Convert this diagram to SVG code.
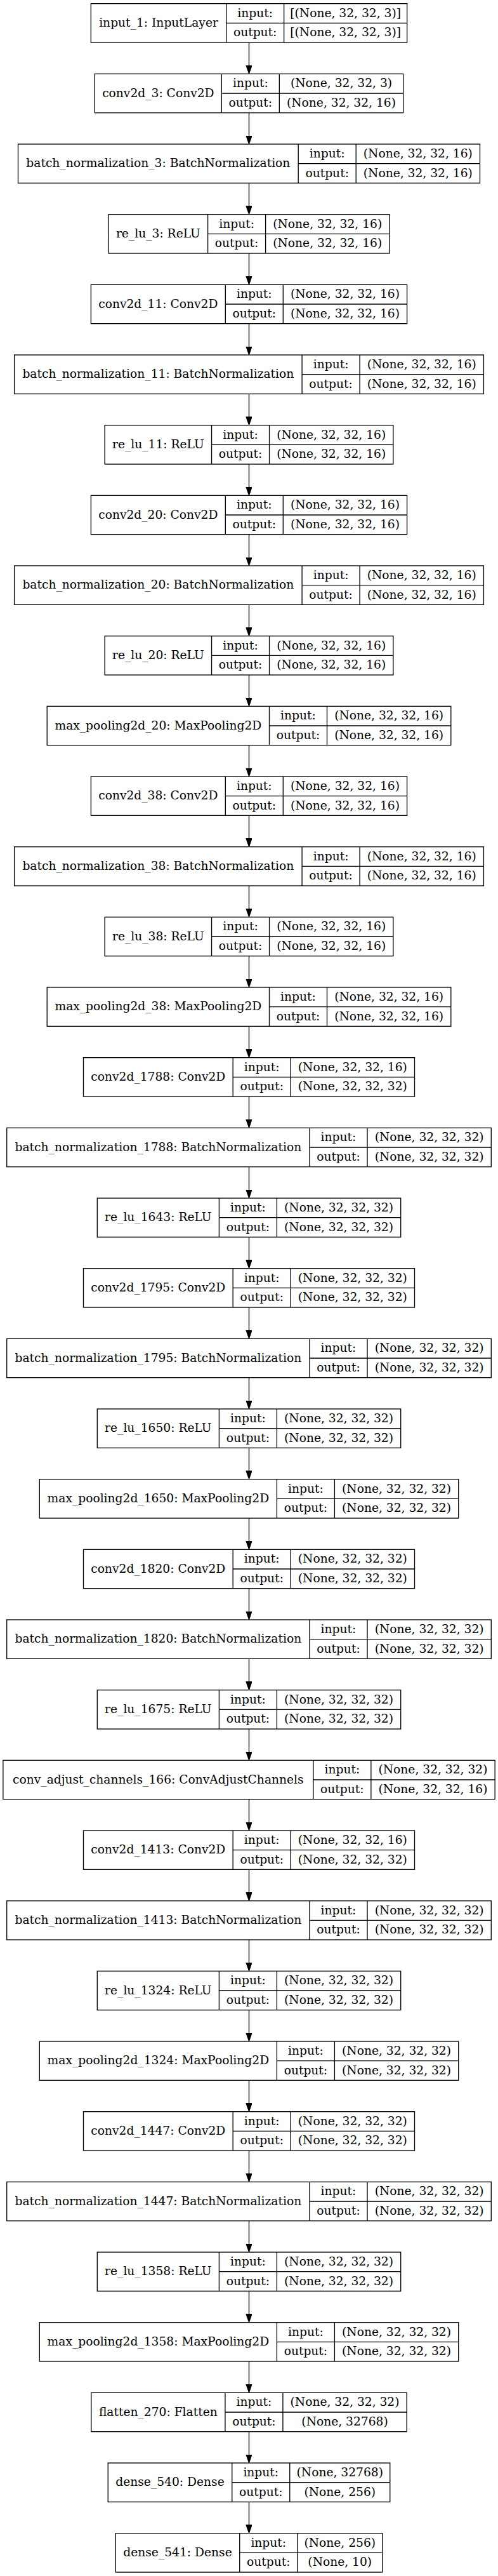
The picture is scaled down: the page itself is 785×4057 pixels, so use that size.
<svg xmlns="http://www.w3.org/2000/svg" width="785" height="4057" viewBox="0 0 785 4057">
<style>
.n rect{fill:#fff;stroke:#000;stroke-width:1.33}
.n path{fill:none;stroke:#000;stroke-width:1.33}
.n text{font-family:"DejaVu Serif","Liberation Serif",serif;font-size:18.67px;text-anchor:middle;fill:#000}
.e line{stroke:#000;stroke-width:1.33}
</style>
<defs>
<marker id="ah" markerUnits="userSpaceOnUse" markerWidth="14" markerHeight="10" refX="8.33" refY="4.67" orient="auto"><path d="M0,0L13.33,4.67L0,9.33z" fill="#000" stroke="#000" stroke-width="1"/></marker>
</defs>
<rect width="785" height="4057" fill="#fff"/>
<g class="e" marker-end="url(#ah)">
<line x1="392.5" y1="67" x2="392.5" y2="111.33" marker-end="url(#ah)"/>
<line x1="392.5" y1="177.67" x2="392.5" y2="222" marker-end="url(#ah)"/>
<line x1="392.5" y1="288.33" x2="392.5" y2="332.67" marker-end="url(#ah)"/>
<line x1="392.5" y1="399" x2="392.5" y2="443.33" marker-end="url(#ah)"/>
<line x1="392.5" y1="509.67" x2="392.5" y2="554" marker-end="url(#ah)"/>
<line x1="392.5" y1="620.33" x2="392.5" y2="664.67" marker-end="url(#ah)"/>
<line x1="392.5" y1="731" x2="392.5" y2="775.33" marker-end="url(#ah)"/>
<line x1="392.5" y1="841.67" x2="392.5" y2="886" marker-end="url(#ah)"/>
<line x1="392.5" y1="952.33" x2="392.5" y2="996.67" marker-end="url(#ah)"/>
<line x1="392.5" y1="1063" x2="392.5" y2="1107.33" marker-end="url(#ah)"/>
<line x1="392.5" y1="1173.67" x2="392.5" y2="1218" marker-end="url(#ah)"/>
<line x1="392.5" y1="1284.33" x2="392.5" y2="1328.67" marker-end="url(#ah)"/>
<line x1="392.5" y1="1395" x2="392.5" y2="1439.33" marker-end="url(#ah)"/>
<line x1="392.5" y1="1505.67" x2="392.5" y2="1550" marker-end="url(#ah)"/>
<line x1="392.5" y1="1616.33" x2="392.5" y2="1660.67" marker-end="url(#ah)"/>
<line x1="392.5" y1="1727" x2="392.5" y2="1771.33" marker-end="url(#ah)"/>
<line x1="392.5" y1="1837.67" x2="392.5" y2="1882" marker-end="url(#ah)"/>
<line x1="392.5" y1="1948.33" x2="392.5" y2="1992.67" marker-end="url(#ah)"/>
<line x1="392.5" y1="2059" x2="392.5" y2="2103.33" marker-end="url(#ah)"/>
<line x1="392.5" y1="2169.67" x2="392.5" y2="2214" marker-end="url(#ah)"/>
<line x1="392.5" y1="2280.33" x2="392.5" y2="2324.67" marker-end="url(#ah)"/>
<line x1="392.5" y1="2391" x2="392.5" y2="2435.33" marker-end="url(#ah)"/>
<line x1="392.5" y1="2501.67" x2="392.5" y2="2546" marker-end="url(#ah)"/>
<line x1="392.5" y1="2612.33" x2="392.5" y2="2656.67" marker-end="url(#ah)"/>
<line x1="392.5" y1="2723" x2="392.5" y2="2767.33" marker-end="url(#ah)"/>
<line x1="392.5" y1="2833.67" x2="392.5" y2="2878" marker-end="url(#ah)"/>
<line x1="392.5" y1="2944.33" x2="392.5" y2="2988.67" marker-end="url(#ah)"/>
<line x1="392.5" y1="3055" x2="392.5" y2="3099.33" marker-end="url(#ah)"/>
<line x1="392.5" y1="3165.67" x2="392.5" y2="3210" marker-end="url(#ah)"/>
<line x1="392.5" y1="3276.33" x2="392.5" y2="3320.67" marker-end="url(#ah)"/>
<line x1="392.5" y1="3387" x2="392.5" y2="3431.33" marker-end="url(#ah)"/>
<line x1="392.5" y1="3497.67" x2="392.5" y2="3542" marker-end="url(#ah)"/>
<line x1="392.5" y1="3608.33" x2="392.5" y2="3652.67" marker-end="url(#ah)"/>
<line x1="392.5" y1="3719" x2="392.5" y2="3763.33" marker-end="url(#ah)"/>
<line x1="392.5" y1="3829.67" x2="392.5" y2="3874" marker-end="url(#ah)"/>
<line x1="392.5" y1="3940.33" x2="392.5" y2="3984.67" marker-end="url(#ah)"/>
</g>

<g id="input_1" class="n" transform="translate(143.35,5.67)">
<rect width="498.3" height="61.33"/><path d="M213.3,0V61.33M304.3,0V61.33M213.3,30.67H498.3"/>
<text x="106.65" y="36.27">input_1: InputLayer</text><text x="258.8" y="20.93">input:</text><text x="258.8" y="51.6">output:</text>
<text x="401.3" y="20.93">[(None, 32, 32, 3)]</text><text x="401.3" y="51.6">[(None, 32, 32, 3)]</text>
</g>
<g id="conv2d_3" class="n" transform="translate(149.35,116.33)">
<rect width="486.3" height="61.33"/><path d="M200,0V61.33M291,0V61.33M200,30.67H486.3"/>
<text x="100" y="36.27">conv2d_3: Conv2D</text><text x="245.5" y="20.93">input:</text><text x="245.5" y="51.6">output:</text>
<text x="388.65" y="20.93">(None, 32, 32, 3)</text><text x="388.65" y="51.6">(None, 32, 32, 16)</text>
</g>
<g id="batch_normalization_3" class="n" transform="translate(28.5,227)">
<rect width="728" height="61.33"/><path d="M441.7,0V61.33M532.7,0V61.33M441.7,30.67H728"/>
<text x="220.85" y="36.27">batch_normalization_3: BatchNormalization</text><text x="487.2" y="20.93">input:</text><text x="487.2" y="51.6">output:</text>
<text x="630.35" y="20.93">(None, 32, 32, 16)</text><text x="630.35" y="51.6">(None, 32, 32, 16)</text>
</g>
<g id="re_lu_3" class="n" transform="translate(171.1,337.67)">
<rect width="442.8" height="61.33"/><path d="M156.5,0V61.33M247.5,0V61.33M156.5,30.67H442.8"/>
<text x="78.25" y="36.27">re_lu_3: ReLU</text><text x="202" y="20.93">input:</text><text x="202" y="51.6">output:</text>
<text x="345.15" y="20.93">(None, 32, 32, 16)</text><text x="345.15" y="51.6">(None, 32, 32, 16)</text>
</g>
<g id="conv2d_11" class="n" transform="translate(143.4,448.33)">
<rect width="498.2" height="61.33"/><path d="M211.9,0V61.33M302.9,0V61.33M211.9,30.67H498.2"/>
<text x="105.95" y="36.27">conv2d_11: Conv2D</text><text x="257.4" y="20.93">input:</text><text x="257.4" y="51.6">output:</text>
<text x="400.55" y="20.93">(None, 32, 32, 16)</text><text x="400.55" y="51.6">(None, 32, 32, 16)</text>
</g>
<g id="batch_normalization_11" class="n" transform="translate(22.6,559)">
<rect width="739.8" height="61.33"/><path d="M453.5,0V61.33M544.5,0V61.33M453.5,30.67H739.8"/>
<text x="226.75" y="36.27">batch_normalization_11: BatchNormalization</text><text x="499" y="20.93">input:</text><text x="499" y="51.6">output:</text>
<text x="642.15" y="20.93">(None, 32, 32, 16)</text><text x="642.15" y="51.6">(None, 32, 32, 16)</text>
</g>
<g id="re_lu_11" class="n" transform="translate(165.15,669.67)">
<rect width="454.7" height="61.33"/><path d="M168.4,0V61.33M259.4,0V61.33M168.4,30.67H454.7"/>
<text x="84.2" y="36.27">re_lu_11: ReLU</text><text x="213.9" y="20.93">input:</text><text x="213.9" y="51.6">output:</text>
<text x="357.05" y="20.93">(None, 32, 32, 16)</text><text x="357.05" y="51.6">(None, 32, 32, 16)</text>
</g>
<g id="conv2d_20" class="n" transform="translate(143.4,780.33)">
<rect width="498.2" height="61.33"/><path d="M211.9,0V61.33M302.9,0V61.33M211.9,30.67H498.2"/>
<text x="105.95" y="36.27">conv2d_20: Conv2D</text><text x="257.4" y="20.93">input:</text><text x="257.4" y="51.6">output:</text>
<text x="400.55" y="20.93">(None, 32, 32, 16)</text><text x="400.55" y="51.6">(None, 32, 32, 16)</text>
</g>
<g id="batch_normalization_20" class="n" transform="translate(22.6,891)">
<rect width="739.8" height="61.33"/><path d="M453.5,0V61.33M544.5,0V61.33M453.5,30.67H739.8"/>
<text x="226.75" y="36.27">batch_normalization_20: BatchNormalization</text><text x="499" y="20.93">input:</text><text x="499" y="51.6">output:</text>
<text x="642.15" y="20.93">(None, 32, 32, 16)</text><text x="642.15" y="51.6">(None, 32, 32, 16)</text>
</g>
<g id="re_lu_20" class="n" transform="translate(165.15,1001.67)">
<rect width="454.7" height="61.33"/><path d="M168.4,0V61.33M259.4,0V61.33M168.4,30.67H454.7"/>
<text x="84.2" y="36.27">re_lu_20: ReLU</text><text x="213.9" y="20.93">input:</text><text x="213.9" y="51.6">output:</text>
<text x="357.05" y="20.93">(None, 32, 32, 16)</text><text x="357.05" y="51.6">(None, 32, 32, 16)</text>
</g>
<g id="max_pooling2d_20" class="n" transform="translate(74.2,1112.33)">
<rect width="636.6" height="61.33"/><path d="M350.3,0V61.33M441.3,0V61.33M350.3,30.67H636.6"/>
<text x="175.15" y="36.27">max_pooling2d_20: MaxPooling2D</text><text x="395.8" y="20.93">input:</text><text x="395.8" y="51.6">output:</text>
<text x="538.95" y="20.93">(None, 32, 32, 16)</text><text x="538.95" y="51.6">(None, 32, 32, 16)</text>
</g>
<g id="conv2d_38" class="n" transform="translate(143.4,1223)">
<rect width="498.2" height="61.33"/><path d="M211.9,0V61.33M302.9,0V61.33M211.9,30.67H498.2"/>
<text x="105.95" y="36.27">conv2d_38: Conv2D</text><text x="257.4" y="20.93">input:</text><text x="257.4" y="51.6">output:</text>
<text x="400.55" y="20.93">(None, 32, 32, 16)</text><text x="400.55" y="51.6">(None, 32, 32, 16)</text>
</g>
<g id="batch_normalization_38" class="n" transform="translate(22.6,1333.67)">
<rect width="739.8" height="61.33"/><path d="M453.5,0V61.33M544.5,0V61.33M453.5,30.67H739.8"/>
<text x="226.75" y="36.27">batch_normalization_38: BatchNormalization</text><text x="499" y="20.93">input:</text><text x="499" y="51.6">output:</text>
<text x="642.15" y="20.93">(None, 32, 32, 16)</text><text x="642.15" y="51.6">(None, 32, 32, 16)</text>
</g>
<g id="re_lu_38" class="n" transform="translate(165.15,1444.33)">
<rect width="454.7" height="61.33"/><path d="M168.4,0V61.33M259.4,0V61.33M168.4,30.67H454.7"/>
<text x="84.2" y="36.27">re_lu_38: ReLU</text><text x="213.9" y="20.93">input:</text><text x="213.9" y="51.6">output:</text>
<text x="357.05" y="20.93">(None, 32, 32, 16)</text><text x="357.05" y="51.6">(None, 32, 32, 16)</text>
</g>
<g id="max_pooling2d_38" class="n" transform="translate(74.2,1555)">
<rect width="636.6" height="61.33"/><path d="M350.3,0V61.33M441.3,0V61.33M350.3,30.67H636.6"/>
<text x="175.15" y="36.27">max_pooling2d_38: MaxPooling2D</text><text x="395.8" y="20.93">input:</text><text x="395.8" y="51.6">output:</text>
<text x="538.95" y="20.93">(None, 32, 32, 16)</text><text x="538.95" y="51.6">(None, 32, 32, 16)</text>
</g>
<g id="conv2d_1788" class="n" transform="translate(131.5,1665.67)">
<rect width="522" height="61.33"/><path d="M235.7,0V61.33M326.7,0V61.33M235.7,30.67H522"/>
<text x="117.85" y="36.27">conv2d_1788: Conv2D</text><text x="281.2" y="20.93">input:</text><text x="281.2" y="51.6">output:</text>
<text x="424.35" y="20.93">(None, 32, 32, 16)</text><text x="424.35" y="51.6">(None, 32, 32, 32)</text>
</g>
<g id="batch_normalization_1788" class="n" transform="translate(10.7,1776.33)">
<rect width="763.6" height="61.33"/><path d="M477.3,0V61.33M568.3,0V61.33M477.3,30.67H763.6"/>
<text x="238.65" y="36.27">batch_normalization_1788: BatchNormalization</text><text x="522.8" y="20.93">input:</text><text x="522.8" y="51.6">output:</text>
<text x="665.95" y="20.93">(None, 32, 32, 32)</text><text x="665.95" y="51.6">(None, 32, 32, 32)</text>
</g>
<g id="re_lu_1643" class="n" transform="translate(153.3,1887)">
<rect width="478.4" height="61.33"/><path d="M192.1,0V61.33M283.1,0V61.33M192.1,30.67H478.4"/>
<text x="96.05" y="36.27">re_lu_1643: ReLU</text><text x="237.6" y="20.93">input:</text><text x="237.6" y="51.6">output:</text>
<text x="380.75" y="20.93">(None, 32, 32, 32)</text><text x="380.75" y="51.6">(None, 32, 32, 32)</text>
</g>
<g id="conv2d_1795" class="n" transform="translate(131.5,1997.67)">
<rect width="522" height="61.33"/><path d="M235.7,0V61.33M326.7,0V61.33M235.7,30.67H522"/>
<text x="117.85" y="36.27">conv2d_1795: Conv2D</text><text x="281.2" y="20.93">input:</text><text x="281.2" y="51.6">output:</text>
<text x="424.35" y="20.93">(None, 32, 32, 32)</text><text x="424.35" y="51.6">(None, 32, 32, 32)</text>
</g>
<g id="batch_normalization_1795" class="n" transform="translate(10.7,2108.33)">
<rect width="763.6" height="61.33"/><path d="M477.3,0V61.33M568.3,0V61.33M477.3,30.67H763.6"/>
<text x="238.65" y="36.27">batch_normalization_1795: BatchNormalization</text><text x="522.8" y="20.93">input:</text><text x="522.8" y="51.6">output:</text>
<text x="665.95" y="20.93">(None, 32, 32, 32)</text><text x="665.95" y="51.6">(None, 32, 32, 32)</text>
</g>
<g id="re_lu_1650" class="n" transform="translate(153.3,2219)">
<rect width="478.4" height="61.33"/><path d="M192.1,0V61.33M283.1,0V61.33M192.1,30.67H478.4"/>
<text x="96.05" y="36.27">re_lu_1650: ReLU</text><text x="237.6" y="20.93">input:</text><text x="237.6" y="51.6">output:</text>
<text x="380.75" y="20.93">(None, 32, 32, 32)</text><text x="380.75" y="51.6">(None, 32, 32, 32)</text>
</g>
<g id="max_pooling2d_1650" class="n" transform="translate(62.3,2329.67)">
<rect width="660.4" height="61.33"/><path d="M374.1,0V61.33M465.1,0V61.33M374.1,30.67H660.4"/>
<text x="187.05" y="36.27">max_pooling2d_1650: MaxPooling2D</text><text x="419.6" y="20.93">input:</text><text x="419.6" y="51.6">output:</text>
<text x="562.75" y="20.93">(None, 32, 32, 32)</text><text x="562.75" y="51.6">(None, 32, 32, 32)</text>
</g>
<g id="conv2d_1820" class="n" transform="translate(131.5,2440.33)">
<rect width="522" height="61.33"/><path d="M235.7,0V61.33M326.7,0V61.33M235.7,30.67H522"/>
<text x="117.85" y="36.27">conv2d_1820: Conv2D</text><text x="281.2" y="20.93">input:</text><text x="281.2" y="51.6">output:</text>
<text x="424.35" y="20.93">(None, 32, 32, 32)</text><text x="424.35" y="51.6">(None, 32, 32, 32)</text>
</g>
<g id="batch_normalization_1820" class="n" transform="translate(10.7,2551)">
<rect width="763.6" height="61.33"/><path d="M477.3,0V61.33M568.3,0V61.33M477.3,30.67H763.6"/>
<text x="238.65" y="36.27">batch_normalization_1820: BatchNormalization</text><text x="522.8" y="20.93">input:</text><text x="522.8" y="51.6">output:</text>
<text x="665.95" y="20.93">(None, 32, 32, 32)</text><text x="665.95" y="51.6">(None, 32, 32, 32)</text>
</g>
<g id="re_lu_1675" class="n" transform="translate(153.3,2661.67)">
<rect width="478.4" height="61.33"/><path d="M192.1,0V61.33M283.1,0V61.33M192.1,30.67H478.4"/>
<text x="96.05" y="36.27">re_lu_1675: ReLU</text><text x="237.6" y="20.93">input:</text><text x="237.6" y="51.6">output:</text>
<text x="380.75" y="20.93">(None, 32, 32, 32)</text><text x="380.75" y="51.6">(None, 32, 32, 32)</text>
</g>
<g id="conv_adjust_channels_166" class="n" transform="translate(4.85,2772.33)">
<rect width="775.3" height="61.33"/><path d="M489,0V61.33M580,0V61.33M489,30.67H775.3"/>
<text x="244.5" y="36.27">conv_adjust_channels_166: ConvAdjustChannels</text><text x="534.5" y="20.93">input:</text><text x="534.5" y="51.6">output:</text>
<text x="677.65" y="20.93">(None, 32, 32, 32)</text><text x="677.65" y="51.6">(None, 32, 32, 16)</text>
</g>
<g id="conv2d_1413" class="n" transform="translate(131.5,2883)">
<rect width="522" height="61.33"/><path d="M235.7,0V61.33M326.7,0V61.33M235.7,30.67H522"/>
<text x="117.85" y="36.27">conv2d_1413: Conv2D</text><text x="281.2" y="20.93">input:</text><text x="281.2" y="51.6">output:</text>
<text x="424.35" y="20.93">(None, 32, 32, 16)</text><text x="424.35" y="51.6">(None, 32, 32, 32)</text>
</g>
<g id="batch_normalization_1413" class="n" transform="translate(10.7,2993.67)">
<rect width="763.6" height="61.33"/><path d="M477.3,0V61.33M568.3,0V61.33M477.3,30.67H763.6"/>
<text x="238.65" y="36.27">batch_normalization_1413: BatchNormalization</text><text x="522.8" y="20.93">input:</text><text x="522.8" y="51.6">output:</text>
<text x="665.95" y="20.93">(None, 32, 32, 32)</text><text x="665.95" y="51.6">(None, 32, 32, 32)</text>
</g>
<g id="re_lu_1324" class="n" transform="translate(153.3,3104.33)">
<rect width="478.4" height="61.33"/><path d="M192.1,0V61.33M283.1,0V61.33M192.1,30.67H478.4"/>
<text x="96.05" y="36.27">re_lu_1324: ReLU</text><text x="237.6" y="20.93">input:</text><text x="237.6" y="51.6">output:</text>
<text x="380.75" y="20.93">(None, 32, 32, 32)</text><text x="380.75" y="51.6">(None, 32, 32, 32)</text>
</g>
<g id="max_pooling2d_1324" class="n" transform="translate(62.3,3215)">
<rect width="660.4" height="61.33"/><path d="M374.1,0V61.33M465.1,0V61.33M374.1,30.67H660.4"/>
<text x="187.05" y="36.27">max_pooling2d_1324: MaxPooling2D</text><text x="419.6" y="20.93">input:</text><text x="419.6" y="51.6">output:</text>
<text x="562.75" y="20.93">(None, 32, 32, 32)</text><text x="562.75" y="51.6">(None, 32, 32, 32)</text>
</g>
<g id="conv2d_1447" class="n" transform="translate(131.5,3325.67)">
<rect width="522" height="61.33"/><path d="M235.7,0V61.33M326.7,0V61.33M235.7,30.67H522"/>
<text x="117.85" y="36.27">conv2d_1447: Conv2D</text><text x="281.2" y="20.93">input:</text><text x="281.2" y="51.6">output:</text>
<text x="424.35" y="20.93">(None, 32, 32, 32)</text><text x="424.35" y="51.6">(None, 32, 32, 32)</text>
</g>
<g id="batch_normalization_1447" class="n" transform="translate(10.7,3436.33)">
<rect width="763.6" height="61.33"/><path d="M477.3,0V61.33M568.3,0V61.33M477.3,30.67H763.6"/>
<text x="238.65" y="36.27">batch_normalization_1447: BatchNormalization</text><text x="522.8" y="20.93">input:</text><text x="522.8" y="51.6">output:</text>
<text x="665.95" y="20.93">(None, 32, 32, 32)</text><text x="665.95" y="51.6">(None, 32, 32, 32)</text>
</g>
<g id="re_lu_1358" class="n" transform="translate(153.3,3547)">
<rect width="478.4" height="61.33"/><path d="M192.1,0V61.33M283.1,0V61.33M192.1,30.67H478.4"/>
<text x="96.05" y="36.27">re_lu_1358: ReLU</text><text x="237.6" y="20.93">input:</text><text x="237.6" y="51.6">output:</text>
<text x="380.75" y="20.93">(None, 32, 32, 32)</text><text x="380.75" y="51.6">(None, 32, 32, 32)</text>
</g>
<g id="max_pooling2d_1358" class="n" transform="translate(62.3,3657.67)">
<rect width="660.4" height="61.33"/><path d="M374.1,0V61.33M465.1,0V61.33M374.1,30.67H660.4"/>
<text x="187.05" y="36.27">max_pooling2d_1358: MaxPooling2D</text><text x="419.6" y="20.93">input:</text><text x="419.6" y="51.6">output:</text>
<text x="562.75" y="20.93">(None, 32, 32, 32)</text><text x="562.75" y="51.6">(None, 32, 32, 32)</text>
</g>
<g id="flatten_270" class="n" transform="translate(143.8,3768.33)">
<rect width="497.4" height="61.33"/><path d="M211.1,0V61.33M302.1,0V61.33M211.1,30.67H497.4"/>
<text x="105.55" y="36.27">flatten_270: Flatten</text><text x="256.6" y="20.93">input:</text><text x="256.6" y="51.6">output:</text>
<text x="399.75" y="20.93">(None, 32, 32, 32)</text><text x="399.75" y="51.6">(None, 32768)</text>
</g>
<g id="dense_540" class="n" transform="translate(170.25,3879)">
<rect width="444.5" height="61.33"/><path d="M195.5,0V61.33M286.5,0V61.33M195.5,30.67H444.5"/>
<text x="97.75" y="36.27">dense_540: Dense</text><text x="241" y="20.93">input:</text><text x="241" y="51.6">output:</text>
<text x="365.5" y="20.93">(None, 32768)</text><text x="365.5" y="51.6">(None, 256)</text>
</g>
<g id="dense_541" class="n" transform="translate(182.25,3989.67)">
<rect width="420.5" height="61.33"/><path d="M195.5,0V61.33M286.5,0V61.33M195.5,30.67H420.5"/>
<text x="97.75" y="36.27">dense_541: Dense</text><text x="241" y="20.93">input:</text><text x="241" y="51.6">output:</text>
<text x="353.5" y="20.93">(None, 256)</text><text x="353.5" y="51.6">(None, 10)</text>
</g>
</svg>
